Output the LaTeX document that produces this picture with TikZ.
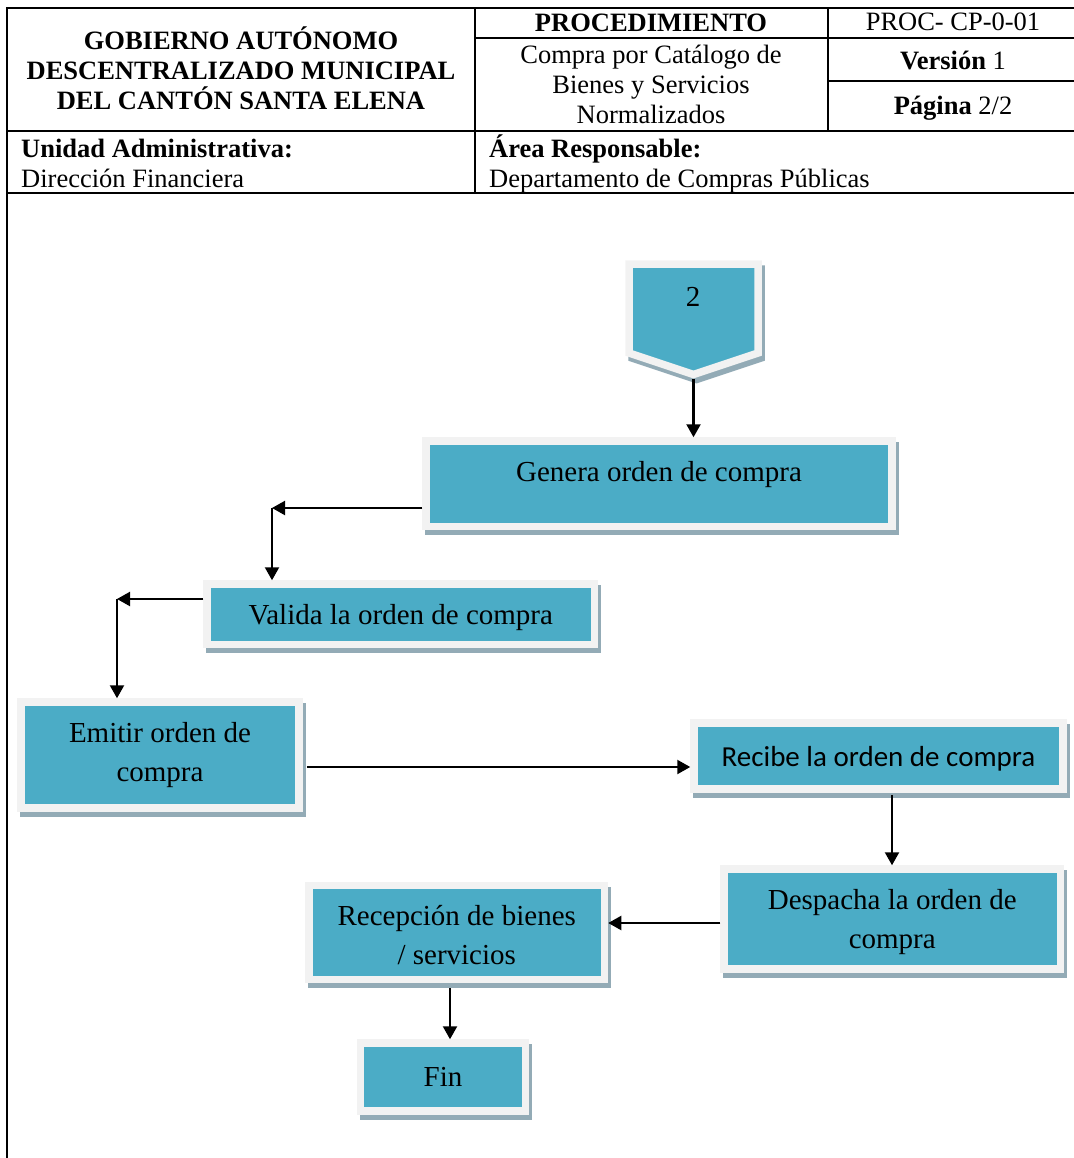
\documentclass[tikz,border=0pt]{standalone}
\usepackage{fontspec}
\setmainfont{Liberation Serif}
\newfontfamily\calibri{Carlito}
\usetikzlibrary{arrows.meta}
\definecolor{boxteal}{HTML}{4BACC6}
\definecolor{framegray}{HTML}{F2F2F2}
\definecolor{shadowcol}{HTML}{93ABB6}
\newcommand{\lowstrut}{\rule{0pt}{26pt}}
\begin{document}
\begin{tikzpicture}[x=1pt,y=-1pt,
  rule/.style={line width=1.8pt, line cap=rect},
  hdr/.style={font=\fontsize{26.5}{30}\selectfont, inner sep=0pt},
  procbox/.style={rectangle, fill=boxteal, draw=framegray, line width=7.5pt,
    inner sep=0pt, align=center, font=\fontsize{29}{39}\selectfont,
    preaction={fill=shadowcol, draw=shadowcol, line width=7.5pt,
      transform canvas={shift={(3pt,-5pt)}}}},
  arr/.style={line width=2.2pt, -{Triangle[length=13pt,width=14pt]}}]
\useasboundingbox (0,0) rectangle (1073,1158);
% header table
\draw[rule] (7,1158) -- (7,8) -- (1073,8);
\draw[rule] (7,131) -- (1073,131);
\draw[rule] (7,193) -- (1073,193);
\draw[rule] (475,8) -- (475,193);
\draw[rule] (828,8) -- (828,131);
\draw[rule] (475,38) -- (1073,38);
\draw[rule] (828,81) -- (1073,81);
% header texts
\node[hdr, anchor=base] (h1) at (241,50) {\bfseries GOBIERNO AUTÓNOMO};
\node[hdr, anchor=base] (h2) at (241,80) {\bfseries DESCENTRALIZADO MUNICIPAL};
\node[hdr, anchor=base] (h3) at (241,110) {\bfseries DEL CANTÓN SANTA ELENA};
\node[hdr, anchor=base] (h4) at (651,32) {\bfseries PROCEDIMIENTO};
\node[hdr, anchor=base] (h5) at (651,64) {Compra por Catálogo de};
\node[hdr, anchor=base] (h6) at (651,94) {Bienes y Servicios};
\node[hdr, anchor=base] (h7) at (651,124) {Normalizados};
\node[hdr, anchor=base] (h8) at (953,31) {PROC- CP-0-01};
\node[hdr, anchor=base] (h9) at (953,70) {\textbf{Versión} 1};
\node[hdr, anchor=base] (h10) at (953,115) {\textbf{Página} 2/2};
\node[hdr, anchor=base west] (h11) at (21,158) {\bfseries Unidad Administrativa:};
\node[hdr, anchor=base west] (h12) at (21,188) {Dirección Financiera};
\node[hdr, anchor=base west] (h13) at (489,158) {\bfseries Área Responsable:};
\node[hdr, anchor=base west] (h14) at (489,188) {Departamento de Compras Públicas};
% off-page connector
\path[fill=boxteal, draw=framegray, line width=7.5pt, line join=miter,
    preaction={fill=shadowcol, draw=shadowcol, line width=7.5pt,
      transform canvas={shift={(3pt,-5pt)}}}]
  (629,264) -- (758,264) -- (758,353) -- (693.5,374.5) -- (629,353) -- cycle;
\node[font=\fontsize{29}{39}\selectfont, inner sep=0pt] (two) at (693,297) {2};
\coordinate (twotip) at (693.5,379);
% boxes
\node[procbox, minimum width=466pt, minimum height=85.5pt, text height=24pt, text depth=28pt]
  (genera) at (659,483.75) {Genera orden de compra};
\node[procbox, minimum width=387.5pt, minimum height=60.5pt]
  (valida) at (400.75,614.25) {\lowstrut Valida la orden de compra};
\node[procbox, minimum width=278pt, minimum height=106pt]
  (emitir) at (160,755) {Emitir orden de\\compra};
\node[procbox, minimum width=369pt, minimum height=66pt, font=\calibri\fontsize{29}{39}\selectfont]
  (recibe) at (878.5,756) {\lowstrut Recibe la orden de compra};
\node[procbox, minimum width=336.5pt, minimum height=100pt]
  (despacha) at (892.25,919) {\lowstrut Despacha la orden de\\compra};
\node[procbox, minimum width=295.5pt, minimum height=94pt]
  (recep) at (456.75,932.5) {\lowstrut Recepción de bienes\\/ servicios};
\node[procbox, minimum width=165pt, minimum height=68pt]
  (fin) at (443,1077) {Fin};
% connectors
\coordinate (c1) at (272,508);
\coordinate (c2) at (117,599);
\coordinate (c3) at (500,767);
\coordinate (c4) at (892,0);
\coordinate (c5) at (0,923);
\coordinate (c6) at (450,0);
\draw[arr] (twotip) -- (twotip |- genera.north);
\draw[arr] (genera.west |- c1) -- (c1);
\draw[arr] (c1) -- (c1 |- valida.north);
\draw[arr] (valida.west |- c2) -- (c2);
\draw[arr] (c2) -- (c2 |- emitir.north);
\draw[arr] ([xshift=4pt]emitir.east |- c3) -- (recibe.west |- c3);
\draw[arr] ([yshift=-2pt]recibe.south -| c4) -- (despacha.north -| c4);
\draw[arr] (despacha.west |- c5) -- (recep.east |- c5);
\draw[arr] ([yshift=-5pt]recep.south -| c6) -- (fin.north -| c6);
\end{tikzpicture}
\end{document}
